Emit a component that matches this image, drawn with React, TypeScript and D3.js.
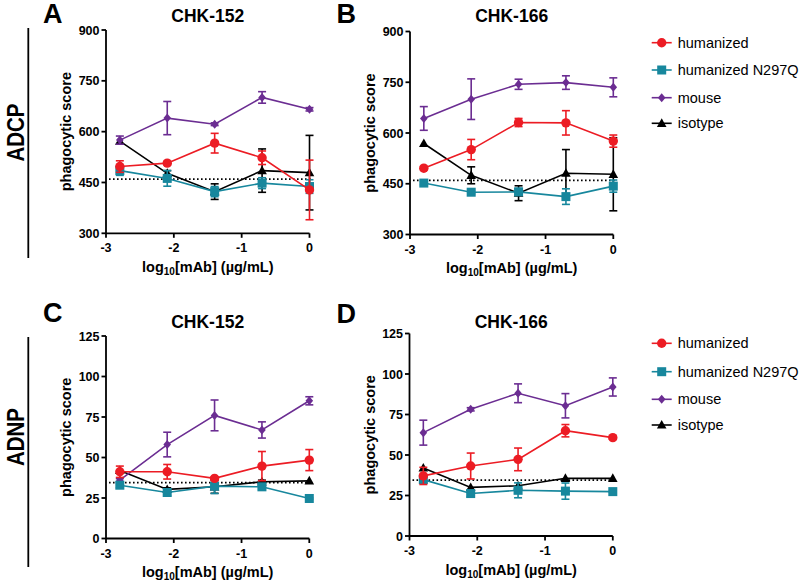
import React from "react";
import * as d3 from "d3";

// ---------- data ----------
const logConc = [-2.796, -2.097, -1.398, -0.699, 0];
const xTickValues = [-3, -2, -1, 0];
const adcpTicks = [300, 450, 600, 750, 900];
const adnpTicks = [0, 25, 50, 75, 100, 125];
const seriesNames = ["humanized", "humanized N297Q", "mouse", "isotype"];
const antibodyTitles = ["CHK-152", "CHK-166", "CHK-152", "CHK-166"];
const panelLetters = ["A", "B", "C", "D"];
const rowLabels = ["ADCP", "ADNP"];
const baselineADCP = 460;
const baselineADNP = 34.5;

// ADCP CHK-152
const adcp152Humanized = [497, 507, 566, 523, 428];
const adcp152HumanizedErr = [17, 5, 29, 20, 88];
const adcp152N297Q = [485, 462, 423, 448, 438];
const adcp152N297QErr = [14, 23, 15, 16, 20];
const adcp152Mouse = [575, 640, 622, 701, 666];
const adcp152MouseErr = [12, 49, 4, 17, 5];
const adcp152Isotype = [572, 477, 423, 485, 479];
const adcp152IsotypeErr = [0, 8, 23, 64, 110];

// ADCP CHK-166
const adcp166Humanized = [496, 551, 631, 630, 576];
const adcp166HumanizedErr = [5, 30, 12, 36, 18];
const adcp166N297Q = [452, 425, 426, 412, 443];
const adcp166N297QErr = [5, 5, 10, 23, 18];
const adcp166Mouse = [643, 700, 744, 749, 735];
const adcp166MouseErr = [35, 60, 15, 20, 28];
const adcp166Isotype = [569, 475, 422, 481, 478];
const adcp166IsotypeErr = [0, 25, 22, 70, 108];

// ADNP CHK-152
const adnp152Humanized = [41.2, 41.2, 37.1, 44.7, 48.4];
const adnp152HumanizedErr = [3.5, 4.5, 1, 9, 6.5];
const adnp152N297Q = [32.9, 28.4, 32.3, 31.9, 24.7];
const adnp152N297QErr = [1.5, 2, 4.5, 1.5, 0.5];
const adnp152Mouse = [36, 58, 76, 67, 85];
const adnp152MouseErr = [1, 7.6, 9.5, 5, 2.5];
const adnp152Isotype = [42, 30.3, 31.9, 35, 35.6];
const adnp152IsotypeErr = [0, 1, 4, 1, 0];

// ADNP CHK-166
const adnp166Humanized = [37.1, 43.2, 47.3, 65.0, 60.7];
const adnp166HumanizedErr = [5.3, 8, 7, 3.8, 1];
const adnp166N297Q = [34.8, 26.2, 28.2, 27.7, 27.4];
const adnp166N297QErr = [2, 2, 4.6, 5, 0.5];
const adnp166Mouse = [63.8, 78.2, 88.1, 80.4, 92];
const adnp166MouseErr = [7.7, 1, 5.8, 7.5, 5.6];
const adnp166Isotype = [42, 30, 31, 35.6, 35.6];
const adnp166IsotypeErr = [0, 0, 0, 0, 0];

// ---------- style / layout ----------
const COLORS = ["#ec1c24", "#17879d", "#6b2d92", "#000000"];
const FONT = "'Liberation Sans', Arial, Helvetica, sans-serif";

const panels = [
  {
    x0: 106, x1: 309.5, yTop: 30, yBot: 233.3, domain: [300, 900], ticks: adcpTicks,
    baseline: baselineADCP, titleY: 21.7, letterX: 43, letterY: 22.5,
    means: [adcp152Humanized, adcp152N297Q, adcp152Mouse, adcp152Isotype],
    errs: [adcp152HumanizedErr, adcp152N297QErr, adcp152MouseErr, adcp152IsotypeErr],
  },
  {
    x0: 410, x1: 613.3, yTop: 31.5, yBot: 234.5, domain: [300, 900], ticks: adcpTicks,
    baseline: baselineADCP, titleY: 21.7, letterX: 336.5, letterY: 22.5,
    means: [adcp166Humanized, adcp166N297Q, adcp166Mouse, adcp166Isotype],
    errs: [adcp166HumanizedErr, adcp166N297QErr, adcp166MouseErr, adcp166IsotypeErr],
  },
  {
    x0: 106, x1: 309.3, yTop: 336, yBot: 538.5, domain: [0, 125], ticks: adnpTicks,
    baseline: baselineADNP, titleY: 328.3, letterX: 43, letterY: 321.7,
    means: [adnp152Humanized, adnp152N297Q, adnp152Mouse, adnp152Isotype],
    errs: [adnp152HumanizedErr, adnp152N297QErr, adnp152MouseErr, adnp152IsotypeErr],
  },
  {
    x0: 409.5, x1: 612.8, yTop: 333.5, yBot: 536, domain: [0, 125], ticks: adnpTicks,
    baseline: baselineADNP, titleY: 328, letterX: 336.5, letterY: 323,
    means: [adnp166Humanized, adnp166N297Q, adnp166Mouse, adnp166Isotype],
    errs: [adnp166HumanizedErr, adnp166N297QErr, adnp166MouseErr, adnp166IsotypeErr],
  },
];

const legends = [
  { x: 651.7, rows: [42.7, 70, 97.7, 123.3] },
  { x: 651.7, rows: [343.3, 371.7, 399.3, 425] },
];

const rowLabelPos = [
  { cx: 16, cy: 132.5, lineX: 28.3, lineY0: 28, lineY1: 258 },
  { cx: 16, cy: 437, lineX: 28.3, lineY0: 337, lineY1: 567 },
];

function Marker({ type, x, y, color }: { type: number; x: number; y: number; color: string }) {
  if (type === 0) return <circle cx={x} cy={y} r={4.7} fill={color} />;
  if (type === 1) return <rect x={x - 4.5} y={y - 4.5} width={9} height={9} fill={color} />;
  if (type === 2)
    return (
      <path d={`M${x},${y - 4.5} L${x + 3.8},${y} L${x},${y + 4.5} L${x - 3.8},${y} Z`} fill={color} />
    );
  return <path d={`M${x},${y - 5} L${x + 4.8},${y + 3.6} L${x - 4.8},${y + 3.6} Z`} fill={color} />;
}

function Panel({ p, idx }: { p: (typeof panels)[number]; idx: number }) {
  const xs = d3.scaleLinear().domain([-3, 0]).range([p.x0, p.x1]);
  const ys = d3.scaleLinear().domain(p.domain).range([p.yBot, p.yTop]);
  const line = d3
    .line<number>()
    .x((_, i) => xs(logConc[i]))
    .y((d) => ys(d));
  const order = [3, 2, 1, 0];
  const cx = (p.x0 + p.x1) / 2;
  return (
    <g>
      <line
        x1={p.x0 + 3}
        x2={p.x1 + 3}
        y1={ys(p.baseline)}
        y2={ys(p.baseline)}
        stroke="#000"
        strokeWidth={1.6}
        strokeDasharray="1.6,2.4"
      />
      {order.map((s) => (
        <g key={s}>
          <path d={line(p.means[s]) || ""} fill="none" stroke={COLORS[s]} strokeWidth={1.6} />
          {p.means[s].map((m, i) => {
            const e = p.errs[s][i];
            if (e <= 0) return null;
            const x = xs(logConc[i]);
            const yt = ys(m + e);
            const yb = ys(m - e);
            return (
              <g key={i} stroke={COLORS[s]} strokeWidth={1.6}>
                <line x1={x} x2={x} y1={yt} y2={yb} />
                <line x1={x - 4} x2={x + 4} y1={yt} y2={yt} />
                <line x1={x - 4} x2={x + 4} y1={yb} y2={yb} />
              </g>
            );
          })}
          {p.means[s].map((m, i) => (
            <Marker key={i} type={s} x={xs(logConc[i])} y={ys(m)} color={COLORS[s]} />
          ))}
        </g>
      ))}
      <g stroke="#000" strokeWidth={1.8}>
        <line x1={p.x0} x2={p.x0} y1={p.yTop} y2={p.yBot} />
        <line x1={p.x0} x2={p.x1} y1={p.yBot} y2={p.yBot} />
        {p.ticks.map((t) => (
          <line key={"y" + t} x1={p.x0 - 4.5} x2={p.x0} y1={ys(t)} y2={ys(t)} />
        ))}
        {xTickValues.map((t) => (
          <line key={"x" + t} x1={xs(t)} x2={xs(t)} y1={p.yBot} y2={p.yBot + 4.5} />
        ))}
      </g>
      <g fontFamily={FONT} fontWeight="bold" fontSize={12.5} fill="#000">
        {p.ticks.map((t) => (
          <text key={"yl" + t} x={p.x0 - 6.5} y={ys(t) + 4.5} textAnchor="end">
            {t}
          </text>
        ))}
        {xTickValues.map((t) => (
          <text key={"xl" + t} x={xs(t)} y={p.yBot + 19} textAnchor="middle">
            {t}
          </text>
        ))}
      </g>
      <text
        transform={`translate(${p.x0 - 35},${(p.yTop + p.yBot) / 2}) rotate(-90)`}
        textAnchor="middle"
        fontFamily={FONT}
        fontWeight="bold"
        fontSize={14.5}
      >
        phagocytic score
      </text>
      <text x={cx} y={p.yBot + 38.5} textAnchor="middle" fontFamily={FONT} fontWeight="bold" fontSize={14.5}>
        log
        <tspan fontSize={10} dy={3}>
          10
        </tspan>
        <tspan dy={-3}>[mAb] (µg/mL)</tspan>
      </text>
      <text x={cx} y={p.titleY} textAnchor="middle" fontFamily={FONT} fontWeight="bold" fontSize={17.5}>
        {antibodyTitles[idx]}
      </text>
      <text x={p.letterX} y={p.letterY} fontFamily={FONT} fontWeight="bold" fontSize={27}>
        {panelLetters[idx]}
      </text>
    </g>
  );
}

export default function App() {
  return (
    <svg
      width={800}
      height={582}
      viewBox="0 0 800 582"
      style={{ position: "absolute", left: 0, top: 0, background: "#fff" }}
    >
      <rect width={800} height={582} fill="#fff" />
      {panels.map((p, i) => (
        <Panel key={i} p={p} idx={i} />
      ))}
      {rowLabelPos.map((r, i) => (
        <g key={i}>
          <line x1={r.lineX} x2={r.lineX} y1={r.lineY0} y2={r.lineY1} stroke="#000" strokeWidth={1.8} />
          <text
            transform={`translate(${r.cx + 8},${r.cy}) rotate(-90)`}
            textAnchor="middle"
            fontFamily={FONT}
            fontWeight="bold"
            fontSize={23}
            textLength={58}
            lengthAdjust="spacingAndGlyphs"
          >
            {rowLabels[i]}
          </text>
        </g>
      ))}
      {legends.map((lg, li) => (
        <g key={li}>
          {seriesNames.map((name, s) => (
            <g key={s}>
              <line x1={lg.x} x2={lg.x + 20} y1={lg.rows[s]} y2={lg.rows[s]} stroke={COLORS[s]} strokeWidth={1.6} />
              <Marker type={s} x={lg.x + 10} y={lg.rows[s]} color={COLORS[s]} />
              <text x={lg.x + 26} y={lg.rows[s] + 5} fontFamily={FONT} fontSize={14.5} fill="#000">
                {name}
              </text>
            </g>
          ))}
        </g>
      ))}
    </svg>
  );
}
